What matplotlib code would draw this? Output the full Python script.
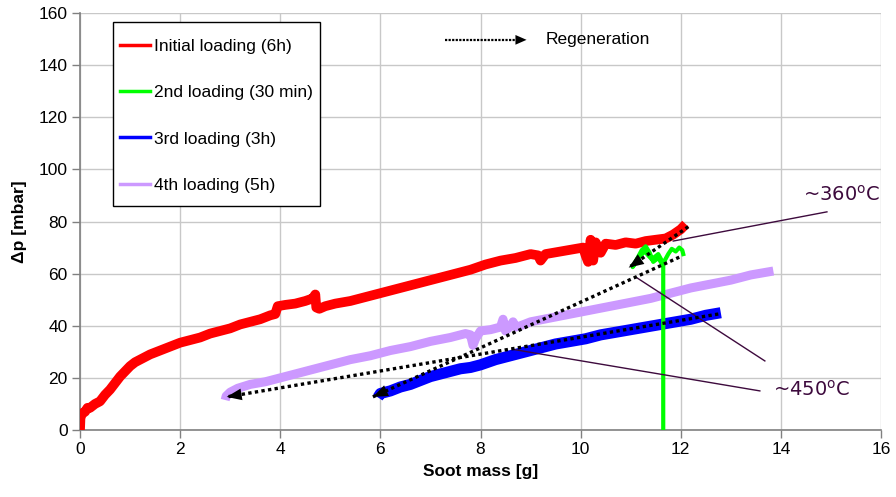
"""Soot loading / regeneration chart."""
import matplotlib
matplotlib.use("Agg")
import matplotlib.pyplot as plt
from matplotlib.lines import Line2D
from matplotlib.patches import Rectangle

plt.rcParams["font.family"] = ["Liberation Sans", "DejaVu Sans"]

# ── Data ──────────────────────────────────────────────────────────────────────
red_x = [0, 0.01, 0.05, 0.1, 0.15, 0.2, 0.3, 0.4, 0.5, 0.6, 0.7, 0.8, 0.9, 1.0,
         1.1, 1.25, 1.4, 1.6, 1.8, 2.0, 2.2, 2.4, 2.6, 2.8, 3.0, 3.2, 3.4, 3.6,
         3.8, 3.9, 3.95, 4.1, 4.3, 4.5, 4.65, 4.7, 4.72, 4.78, 4.9, 5.1, 5.4,
         5.7, 6.0, 6.3, 6.6, 6.9, 7.2, 7.5, 7.8, 8.1, 8.4, 8.7, 9.0, 9.15, 9.2,
         9.3, 9.6, 9.9, 10.05, 10.1, 10.15, 10.2, 10.25, 10.3, 10.4, 10.5, 10.7,
         10.9, 11.1, 11.3, 11.5, 11.7, 11.85, 12.0, 12.1]
red_y = [0, 5, 6.5, 7, 8.5, 8.5, 10, 11, 13.5, 15.5, 18, 20.5, 22.5, 24.5,
         26, 27.5, 29, 30.5, 32, 33.5, 34.5, 35.5, 37, 38, 39, 40.5, 41.5, 42.5,
         44, 44.5, 47.5, 48, 48.5, 49.5, 50.5, 52, 47, 46.5, 47.5, 48.5, 49.5,
         51, 52.5, 54, 55.5, 57, 58.5, 60, 61.5, 63.5, 65, 66, 67.5, 67, 65,
         67.5, 68.5, 69.5, 70, 67, 64.5, 73, 65, 72, 68, 71.5, 71,
         72, 71.5, 72.5, 73, 73.5, 75, 77, 79]

green_x = [11.65, 11.65, 11.55, 11.45, 11.38, 11.3, 11.22, 11.15, 11.08, 11.04,
           11.15, 11.28, 11.42, 11.55, 11.65, 11.75, 11.82, 11.9, 11.97, 12.03, 12.05]
green_y = [0, 63, 66, 64.5, 68, 70.5, 69, 66.5, 64, 62.5,
           66, 68.5, 65.5, 67.5, 64, 67.5, 69.5, 68.5, 70, 69, 67.5]

blue_x = [5.95, 6.0, 6.2, 6.4, 6.6, 6.8, 7.0, 7.2, 7.4, 7.6, 7.8, 8.0, 8.3, 8.6,
          8.9, 9.2, 9.5, 9.8, 10.1, 10.4, 10.7, 11.0, 11.3, 11.6, 11.9, 12.2,
          12.5, 12.8]
blue_y = [12.5, 14, 15, 16.5, 17.5, 19, 20.5, 21.5, 22.5, 23.5, 24, 25, 27, 28.5,
          30, 31.5, 33, 34, 35, 36.5, 37.5, 38.5, 39.5, 40.5, 41.5, 42.5,
          44, 45]

purple_x = [2.9, 2.92, 3.0, 3.15, 3.4, 3.7, 4.0, 4.3, 4.6, 5.0, 5.4, 5.8, 6.2,
            6.6, 7.0, 7.4, 7.7, 7.8, 7.85, 7.9, 8.0, 8.2, 8.4, 8.45, 8.5, 8.6,
            8.65, 8.7, 8.8, 9.0, 9.4, 9.8, 10.2, 10.6, 11.0, 11.4, 11.8, 12.2,
            12.6, 13.0, 13.4, 13.85]
purple_y = [11.5, 13, 14.5, 16, 17.5, 18.5, 20, 21.5, 23, 25, 27, 28.5, 30.5,
            32, 34, 35.5, 37, 36.5, 32.5, 35, 38, 38.5, 39.5, 42.5, 38, 40,
            41.5, 39.5, 40, 41.5, 43, 44.5, 46, 47.5, 49, 50.5, 52.5, 54.5,
            56, 57.5, 59.5, 61]

labels = ["Initial loading (6h)", "2nd loading (30 min)",
          "3rd loading (3h)", "4th loading (5h)"]

# regeneration arrows: start -> end
regen_start = [(12.15, 78), (11.97, 66.3), (12.75, 44.5)]
regen_end = [(10.96, 62.3), (5.85, 12.7), (2.93, 12.7)]

# temperature callouts
t360_line = ([11.85, 14.92], [72.5, 83.7])
t450_lines = [([11.1, 13.68], [58.7, 26.5]), ([8.66, 13.58], [30.9, 15.0])]
t360_pos = (15.22, 90.2)
t450_pos = (14.62, 15.3)

# ── Palette ───────────────────────────────────────────────────────────────────
RED = "#FF0000"
GREEN = "#00FF00"
BLUE = "#0000FF"
PURPLE = "#CC99FF"
GRID_C = "#C8C8C8"
AXIS_C = "#808080"
NOTE_C = "#3D0A3D"

FS = 12.5

fig = plt.figure(figsize=(8.96, 4.97), dpi=100, facecolor="white")
ax = fig.add_axes([80 / 896, 67 / 497, 801 / 896, 417 / 497])

band = dict(solid_joinstyle="round", solid_capstyle="butt", zorder=3)
ax.plot(red_x, red_y, color=RED, lw=7, **band)
ax.plot(purple_x, purple_y, color=PURPLE, lw=6.5, **band)
ax.plot(blue_x, blue_y, color=BLUE, lw=8, **band)
ax.plot(green_x, green_y, color=GREEN, lw=3, solid_joinstyle="round", zorder=4)

# dotted regeneration arrows
for (x0, y0), (x1, y1) in zip(regen_start, regen_end):
    ax.plot([x0, x1], [y0, y1], color="black", lw=2.4,
            linestyle=(0, (1, 1)), zorder=6)
    ax.annotate("", xy=(x1, y1), xytext=(x0, y0),
                arrowprops=dict(arrowstyle="-|>,head_length=0.9,head_width=0.35",
                                lw=0, color="black", mutation_scale=12,
                                shrinkA=0, shrinkB=0), zorder=6)

# temperature callout lines + labels
ax.plot(*t360_line, color=NOTE_C, lw=1, zorder=5)
for lx, ly in t450_lines:
    ax.plot(lx, ly, color=NOTE_C, lw=1, zorder=5)
note = dict(color=NOTE_C, fontsize=14, ha="center", va="center",
            family=["DejaVu Sans"])
ax.text(*t360_pos, r"~360$^\mathregular{o}$C", **note)
ax.text(*t450_pos, r"~450$^\mathregular{o}$C", **note)

# regeneration key
ax.plot([7.3, 8.8], [149.7, 149.7], color="black", lw=1.6,
        linestyle=(0, (1, 0.6)))
ax.annotate("", xy=(8.92, 149.7), xytext=(7.3, 149.7),
            arrowprops=dict(arrowstyle="-|>,head_length=0.8,head_width=0.35",
                            lw=0, color="black", mutation_scale=10,
                            shrinkA=0, shrinkB=0))
ax.text(9.31, 149.7, "Regeneration", fontsize=FS, va="center", ha="left")

# legend: frame drawn separately so the box can be taller than its padding
ax.add_patch(Rectangle((0.0412, 0.537), 0.2584, 0.441, transform=ax.transAxes,
                       facecolor="white", edgecolor="black", lw=1, zorder=7))
handles = [Line2D([], [], color=c, lw=2.5) for c in (RED, GREEN, BLUE, PURPLE)]
leg = ax.legend(handles, labels, loc="upper left", bbox_to_anchor=(0.05, 0.937),
                borderaxespad=0, borderpad=0, fontsize=FS, labelspacing=1.78,
                handlelength=1.75, handletextpad=0.2, frameon=False)
leg.set_zorder(8)

# axes styling
ax.set_xlim(0, 16)
ax.set_ylim(0, 160)
ax.set_xticks(range(0, 17, 2))
ax.set_yticks(range(0, 161, 20))
ax.grid(True, color=GRID_C, lw=1)
ax.set_axisbelow(True)
for s in ("top", "right"):
    ax.spines[s].set_visible(False)
for s in ("left", "bottom"):
    ax.spines[s].set_color(AXIS_C)
    ax.spines[s].set_linewidth(1.2)
ax.tick_params(direction="out", length=6, width=1, color=AXIS_C,
               labelsize=FS, pad=3, labelcolor="black")
ax.set_xlabel("Soot mass [g]", fontsize=FS, fontweight="bold", labelpad=5)
ax.set_ylabel("Δp [mbar]", fontsize=FS, fontweight="bold", labelpad=8)

fig.savefig("out.png", dpi=100, facecolor="white")
